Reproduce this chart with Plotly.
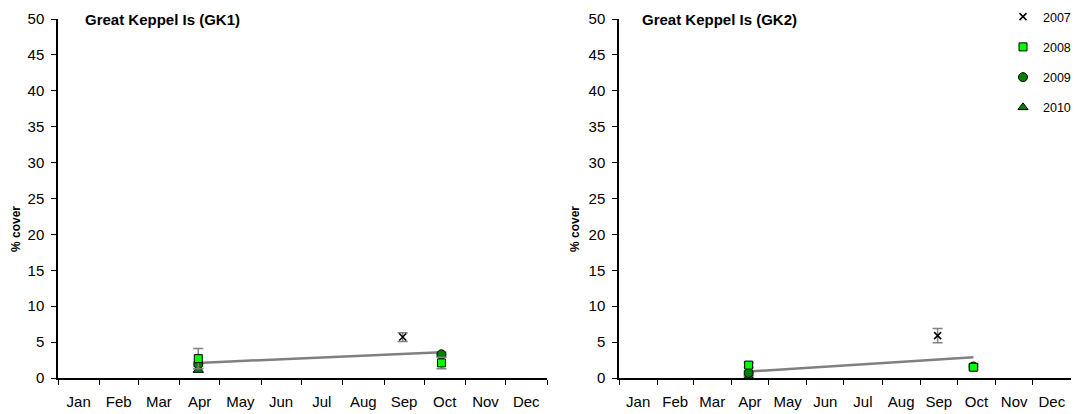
import plotly.graph_objects as go

months = ["Jan", "Feb", "Mar", "Apr", "May", "Jun", "Jul", "Aug", "Sep", "Oct", "Nov", "Dec"]
years = ["2007", "2008", "2009", "2010"]

# sampling dates (mid-month) for each year
dates = {
    "2007": ["2000-09-15"],
    "2008": ["2000-04-15", "2000-10-14"],
    "2009": ["2000-04-15", "2000-10-14"],
    "2010": ["2000-04-15"],
}

# GK1 values (% cover) and standard errors
gk1_vals = {"2007": [5.7], "2008": [2.7, 2.1], "2009": [1.9, 3.3], "2010": [1.1]}
gk1_err = {"2007": [0.6], "2008": [1.4, 0.8], "2009": [0.3, 0.3], "2010": [0.2]}
gk1_trend_x = ["2000-04-15", "2000-10-14"]
gk1_trend_y = [2.1, 3.6]

# GK2 values (% cover) and standard errors
gk2_vals = {"2007": [5.9], "2008": [1.8, 1.5], "2009": [0.7, 1.6], "2010": [0.15]}
gk2_err = {"2007": [1.0], "2008": [0.3, 0.4], "2009": [0.3, 0.3], "2010": [0.1]}
gk2_trend_x = ["2000-04-15", "2000-10-14"]
gk2_trend_y = [0.9, 2.9]

styles = {
    "2007": dict(symbol="x-thin", size=7, color="black", line=dict(color="black", width=1.5)),
    "2008": dict(symbol="square", size=8, color="#00FF00", line=dict(color="black", width=1)),
    "2009": dict(symbol="circle", size=9, color="#008000", line=dict(color="black", width=1)),
    "2010": dict(symbol="triangle-up", size=9, color="#008000", line=dict(color="black", width=1)),
}

FONT = "Liberation Sans, Arial, sans-serif"
fig = go.Figure()

def add_panel(vals, errs, tx, ty, xa, ya, show):
    fig.add_trace(go.Scatter(x=tx, y=ty, mode="lines", line=dict(color="#808080", width=2.5),
                             xaxis=xa, yaxis=ya, showlegend=False, hoverinfo="skip"))
    for yr in ["2010", "2009", "2008", "2007"]:
        fig.add_trace(go.Scatter(
            x=dates[yr], y=vals[yr], mode="markers", name=yr, legendgroup=yr,
            marker=styles[yr],
            error_y=dict(type="data", array=errs[yr], color="#808080", thickness=1.5, width=5),
            xaxis=xa, yaxis=ya, showlegend=show, legendrank=int(yr)))

add_panel(gk1_vals, gk1_err, gk1_trend_x, gk1_trend_y, "x", "y", False)
add_panel(gk2_vals, gk2_err, gk2_trend_x, gk2_trend_y, "x2", "y2", True)

# page has an 8px body margin, so figure is sized/positioned to compensate
W, H = 1063, 406
T, B = 11, 36
PH = H - T - B

xcommon = dict(type="date", range=["2000-01-01", "2001-01-01"], dtick="M1", tick0="2000-01-01",
               tickformat="%b", ticklabelmode="period", ticks="outside", ticklen=5,
               tickcolor="black", showline=True, linecolor="black", linewidth=1.5,
               showgrid=False, zeroline=False, ticklabelstandoff=4,
               tickfont=dict(family=FONT, size=15, color="black"))
ycommon = dict(range=[0, 50], dtick=5, ticks="outside", ticklen=5, tickcolor="black",
               showline=True, linecolor="black", linewidth=1.5, showgrid=False, zeroline=False,
               ticklabelstandoff=4, tickfont=dict(family=FONT, size=15, color="black"))

fig.update_layout(
    width=W, height=H,
    margin=dict(l=0, r=0, t=T, b=B, autoexpand=False),
    plot_bgcolor="white", paper_bgcolor="white",
    xaxis=dict(domain=[50 / W, 539 / W], anchor="y", **xcommon),
    yaxis=dict(domain=[0, 1], anchor="x", **ycommon),
    xaxis2=dict(domain=[611 / W, 1.0], anchor="y2", **xcommon),
    yaxis2=dict(domain=[0, 1], anchor="x2", **ycommon),
    legend=dict(x=995 / W, y=1 + (T + 6) / PH, xanchor="left", yanchor="top",
                bgcolor="rgba(0,0,0,0)",
                font=dict(family=FONT, size=12.5, color="black"), traceorder="grouped",
                tracegroupgap=11, itemwidth=30),
    showlegend=True,
)

for txt, px in [("Great Keppel Is (GK1)", 75), ("Great Keppel Is (GK2)", 632)]:
    fig.add_annotation(text="<b>" + txt + "</b>", xref="paper", yref="paper",
                       x=px / W, y=1.0, xanchor="left", yanchor="middle", showarrow=False,
                       font=dict(family=FONT, size=15, color="black"))

for px in [8, 567]:
    fig.add_annotation(text="<b>% cover</b>", xref="paper", yref="paper", textangle=-90,
                       x=px / W, y=0.415, xanchor="center", yanchor="middle",
                       showarrow=False, font=dict(family=FONT, size=12, color="black"))

fig.write_html("out.html")
